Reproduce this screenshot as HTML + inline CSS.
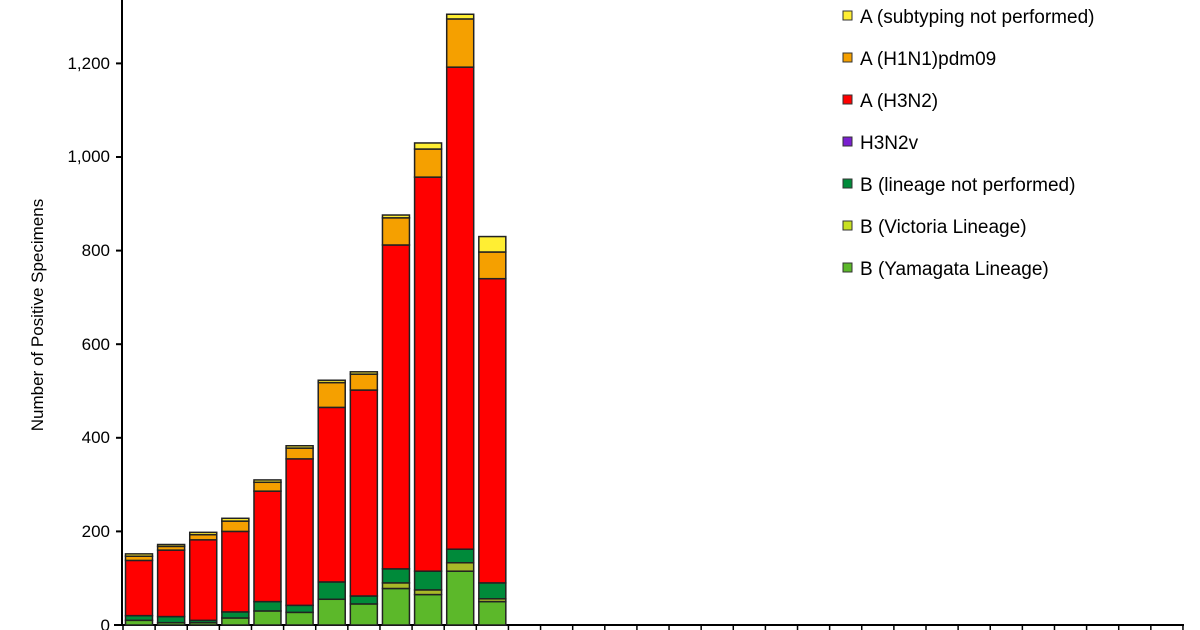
<!DOCTYPE html>
<html><head><style>
body{margin:0;background:#fff;}
svg{display:block;font-family:"Liberation Sans",Arial,sans-serif;}
</style></head><body>
<svg width="1200" height="630" xmlns="http://www.w3.org/2000/svg">
<rect width="1200" height="630" fill="#fff"/>
<g font-size="17" fill="#000" text-anchor="end">
<text x="110" y="631">0</text>
<text x="110" y="537">200</text>
<text x="110" y="443">400</text>
<text x="110" y="350">600</text>
<text x="110" y="256">800</text>
<text x="110" y="162">1,000</text>
<text x="110" y="69">1,200</text>
</g>
<text transform="translate(43,315) rotate(-90)" font-size="17" text-anchor="middle">Number of Positive Specimens</text>
<g stroke="#000" stroke-width="2">
<line x1="122" y1="0" x2="122" y2="626"/>
<line x1="114" y1="625" x2="1184" y2="625"/>
<line x1="116" y1="531.4" x2="122" y2="531.4"/>
<line x1="116" y1="437.8" x2="122" y2="437.8"/>
<line x1="116" y1="344.2" x2="122" y2="344.2"/>
<line x1="116" y1="250.6" x2="122" y2="250.6"/>
<line x1="116" y1="157" x2="122" y2="157"/>
<line x1="116" y1="63.4" x2="122" y2="63.4"/>
</g>
<g id="ticks" stroke="#000" stroke-width="1.5"></g>
<g id="bars"></g>
<g font-size="19" fill="#000">
<rect x="843" y="11" width="9" height="9" fill="#ffee33" stroke="#333"/><text x="860" y="23">A (subtyping not performed)</text>
<rect x="843" y="53" width="9" height="9" fill="#f5a000" stroke="#333"/><text x="860" y="65">A (H1N1)pdm09</text>
<rect x="843" y="95" width="9" height="9" fill="#ff0000" stroke="#333"/><text x="860" y="107">A (H3N2)</text>
<rect x="843" y="137" width="9" height="9" fill="#7a1fd0" stroke="#333"/><text x="860" y="149">H3N2v</text>
<rect x="843" y="179" width="9" height="9" fill="#008a3a" stroke="#333"/><text x="860" y="191">B (lineage not performed)</text>
<rect x="843" y="221" width="9" height="9" fill="#c8e020" stroke="#333"/><text x="860" y="233">B (Victoria Lineage)</text>
<rect x="843" y="263" width="9" height="9" fill="#5cb82a" stroke="#333"/><text x="860" y="275">B (Yamagata Lineage)</text>
</g>
<script>
var ns="http://www.w3.org/2000/svg";
var t=document.getElementById("ticks");
for(var k=0;k<=33;k++){var x=123+32.12*k;var l=document.createElementNS(ns,"line");l.setAttribute("x1",x);l.setAttribute("x2",x);l.setAttribute("y1",625);l.setAttribute("y2",631);t.appendChild(l);}
var data=[[10,10,20,138,147,152],[5,5,18,160,168,172],[5,5,10,182,193,198],[15,15,28,200,222,228],[30,30,50,286,305,310],[27,27,42,355,378,383],[55,55,92,465,518,523],[45,45,62,502,536,541],[78,90,120,812,870,876],[65,75,115,957,1017,1030],[115,133,162,1192,1295,1305],[50,56,90,740,797,830]];
var cols=["#5cb82a","#a8b828","#008a3a","#ff0000","#f5a000","#ffee33"];
var g=document.getElementById("bars");
function Y(v){return 625-v*0.468;}
data.forEach(function(d,i){var x=125.5+32.12*i;var prev=0;
d.forEach(function(v,j){if(v>prev){var r=document.createElementNS(ns,"rect");r.setAttribute("x",x);r.setAttribute("width",27);r.setAttribute("y",Y(v));r.setAttribute("height",Y(prev)-Y(v));r.setAttribute("fill",cols[j]);r.setAttribute("stroke","#222");r.setAttribute("stroke-width","1.5");g.appendChild(r);}prev=v;});});
</script>
</svg>
</body></html>
